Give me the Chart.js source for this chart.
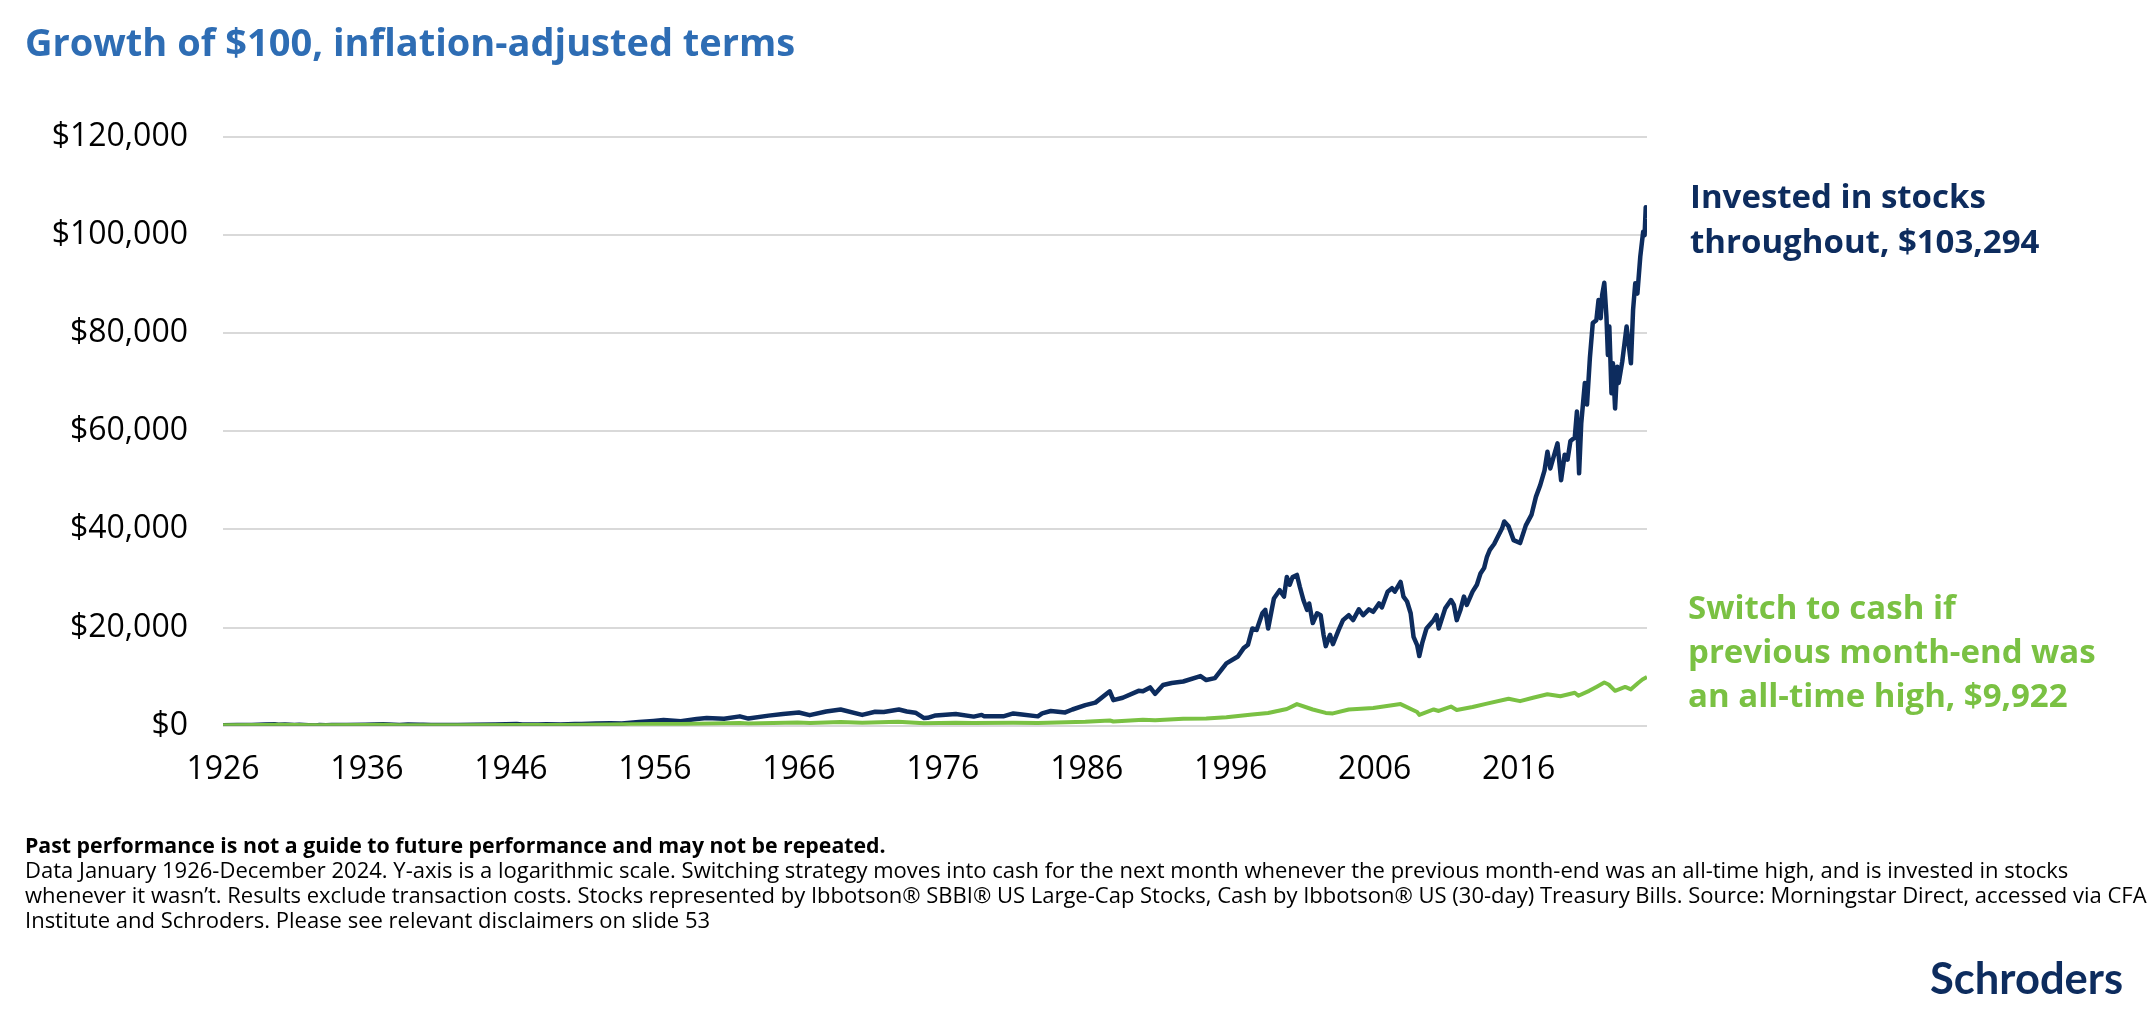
<!DOCTYPE html>
<html>
<head>
<meta charset="utf-8">
<script src="https://cdn.jsdelivr.net/npm/chart.js@4.4.1/dist/chart.umd.min.js"></script>
<style>
  html, body { margin: 0; padding: 0; background: #ffffff; }
  body { width: 2154px; height: 1015px; position: relative; overflow: hidden; font-family: "Open Sans", "Noto Sans", sans-serif; }
  #chart { position: absolute; left: 0; top: 0; }
  .title { position: absolute; left: 25px; top: 19px; font-size: 38px; line-height: 44px; font-weight: 700; color: #2E6DB4; white-space: nowrap; }
  .lab { position: absolute; font-size: 33px; font-weight: 700; white-space: nowrap; }
  .stocklab { left: 1690px; top: 173px; line-height: 45px; color: #0D2C5E; }
  .cashlab { left: 1688px; top: 585px; line-height: 44px; color: #7AC143; }
  .foot { position: absolute; left: 25px; top: 832px; font-size: 22px; line-height: 25px; color: #000; white-space: nowrap; }
  .foot b { font-weight: 700; font-size: 21.3px; }
  .logo { position: absolute; left: 1930px; top: 951px; font-family: "Lato", sans-serif; font-weight: 700; font-size: 43.5px; line-height: 52px; color: #0D2C5E; white-space: nowrap; }
</style>
</head>
<body>
<canvas id="chart" width="2154" height="1015"></canvas>
<div class="title">Growth of $100, inflation-adjusted terms</div>
<div class="lab stocklab">Invested in stocks<br>throughout, $103,294</div>
<div class="lab cashlab">Switch to cash if<br>previous month-end was<br>an all-time high, $9,922</div>
<div class="foot"><b>Past performance is not a guide to future performance and may not be repeated.</b><br>Data January 1926-December 2024. Y-axis is a logarithmic scale. Switching strategy moves into cash for the next month whenever the previous month-end was an all-time high, and is invested in stocks<br>whenever it wasn’t. Results exclude transaction costs. Stocks represented by Ibbotson® SBBI® US Large-Cap Stocks, Cash by Ibbotson® US (30-day) Treasury Bills. Source: Morningstar Direct, accessed via CFA<br>Institute and Schroders. Please see relevant disclaimers on slide 53</div>
<div class="logo">Schroders</div>
<script>
// ---- Data ----
const xTickYears = [1926, 1936, 1946, 1956, 1966, 1976, 1986, 1996, 2006, 2016];
const yTickValues = [0, 20000, 40000, 60000, 80000, 100000, 120000];

const stockYears = [1926.0,1927.0,1928.0,1928.9,1929.6,1929.85,1930.3,1930.95,1931.3,1931.95,1932.45,1932.7,1933.15,1933.55,1934.6,1935.9,1937.1,1938.25,1938.85,1939.65,1939.9,1940.45,1941.9,1942.3,1943.5,1944.9,1946.4,1946.8,1947.9,1948.45,1949.45,1950.45,1950.9,1951.9,1952.9,1953.7,1954.9,1955.9,1956.6,1957.8,1958.9,1959.6,1960.8,1961.9,1962.5,1963.9,1964.9,1966.0,1966.75,1967.9,1968.9,1970.4,1971.3,1971.9,1972.95,1973.5,1974.1,1974.7,1974.95,1975.5,1976.9,1978.15,1978.7,1978.85,1980.2,1980.9,1981.5,1982.6,1982.9,1983.5,1984.5,1985.0,1985.9,1986.6,1987.6,1987.85,1988.5,1989.6,1989.9,1990.4,1990.75,1991.3,1991.9,1992.7,1993.9,1994.3,1994.9,1995.7,1996.5,1996.9,1997.2,1997.5,1997.8,1998.2,1998.4,1998.6,1999.0,1999.4,1999.7,1999.9,2000.1,2000.3,2000.6,2000.8,2001.05,2001.3,2001.45,2001.7,2002.0,2002.25,2002.45,2002.6,2002.9,2003.1,2003.5,2003.8,2004.2,2004.5,2004.9,2005.2,2005.6,2005.9,2006.3,2006.5,2006.9,2007.2,2007.4,2007.8,2008.0,2008.25,2008.5,2008.7,2008.95,2009.1,2009.3,2009.6,2010.1,2010.3,2010.45,2010.9,2011.3,2011.5,2011.7,2011.95,2012.2,2012.4,2012.8,2013.1,2013.35,2013.6,2013.8,2014.0,2014.3,2014.5,2014.85,2015.0,2015.3,2015.65,2016.1,2016.5,2016.9,2017.2,2017.5,2017.8,2018.0,2018.2,2018.7,2018.95,2019.2,2019.4,2019.6,2019.9,2020.05,2020.2,2020.35,2020.6,2020.75,2020.95,2021.15,2021.4,2021.55,2021.7,2021.8,2021.95,2022.1,2022.2,2022.3,2022.45,2022.55,2022.7,2022.85,2022.95,2023.2,2023.5,2023.8,2023.95,2024.1,2024.25,2024.45,2024.65,2024.75,2024.83,2024.917];
const stockValues = [100,125,165,240,300,200,240,160,170,95,65,125,85,150,130,210,300,150,220,190,210,160,150,135,210,250,370,260,260,290,250,330,370,440,520,470,760,980,1150,930,1380,1550,1400,1900,1450,2050,2400,2700,2150,2900,3300,2200,2850,2800,3300,2900,2650,1550,1600,2100,2400,1850,2200,1950,1900,2500,2300,1900,2500,3000,2700,3300,4200,4700,7000,5200,5700,7100,7000,7800,6500,8300,8700,9000,10100,9300,9700,12700,14100,15800,16500,19800,19500,22900,23600,19800,25900,27600,26300,30300,28700,30300,30700,28300,25600,23600,24900,20900,22900,22500,18500,16200,18500,16600,19500,21500,22500,21500,23700,22500,23700,23200,24900,24100,27300,28000,27300,29300,26300,25300,22900,18100,16400,14200,16800,19800,21500,22500,19800,23900,25600,24600,21500,23500,26300,24600,27300,28700,31000,32100,34400,35800,37000,38200,40200,41600,40600,37800,37200,40800,43000,46600,49000,52000,55800,52400,57500,50000,55200,54200,58000,58700,64000,51400,61600,69800,65400,74900,82000,82600,86700,83000,87700,90200,83300,75500,81300,67700,73800,64600,73100,69800,74200,81300,73800,84700,90100,88000,95500,100600,99900,105600,103294];

const cashYears = [1926.0,1929.0,1929.7,1932.4,1936.0,1937.1,1938.2,1942.3,1946.4,1949.5,1952.9,1955.9,1957.8,1959.9,1961.9,1962.5,1965.9,1966.8,1968.9,1970.4,1972.9,1974.7,1976.9,1978.1,1980.9,1982.6,1985.9,1987.6,1987.85,1989.9,1990.75,1992.7,1994.3,1995.7,1997.5,1998.6,1999.9,2000.6,2001.7,2002.6,2003.1,2004.2,2005.9,2007.8,2008.95,2009.1,2010.1,2010.45,2011.3,2011.7,2012.8,2013.8,2015.3,2016.1,2017.0,2018.0,2018.9,2019.9,2020.15,2020.9,2021.4,2021.95,2022.25,2022.7,2023.4,2023.8,2024.3,2024.6,2024.917];
const cashValues = [100,140,170,75,150,170,110,110,160,140,220,350,330,450,560,450,650,560,750,600,800,480,620,560,620,560,800,1050,850,1200,1100,1400,1450,1700,2300,2600,3400,4400,3300,2600,2500,3300,3600,4400,2800,2200,3300,3000,3900,3200,3800,4500,5500,5000,5700,6400,6000,6700,6100,7100,7900,8800,8400,7100,7900,7400,8700,9400,9922];

const seriesNames = ["Switch to cash if previous month-end was an all-time high", "Invested in stocks throughout"];

// ---- Build chart ----
const toPoints = (xs, ys) => xs.map((x, i) => ({ x: x, y: ys[i] }));
const PLOT_LEFT = 223, PLOT_RIGHT = 1647, PLOT_TOP = 136.5, PLOT_BOTTOM = 725.7;
const W = 2154, H = 1015, XAXIS_H = 80;
const tickFont = { family: '"Open Sans", "Noto Sans", sans-serif', size: 32 };

new Chart(document.getElementById('chart'), {
  type: 'line',
  data: {
    datasets: [
      { label: seriesNames[0], data: toPoints(cashYears, cashValues), borderColor: '#7AC143', borderWidth: 4, pointRadius: 0, tension: 0, borderJoinStyle: 'round', fill: false },
      { label: seriesNames[1], data: toPoints(stockYears, stockValues), borderColor: '#0D2C5E', borderWidth: 4.5, pointRadius: 0, tension: 0, borderJoinStyle: 'round', fill: false }
    ]
  },
  options: {
    responsive: false,
    devicePixelRatio: 1,
    animation: false,
    layout: { padding: { left: 0, top: PLOT_TOP, right: W - PLOT_RIGHT, bottom: H - PLOT_BOTTOM - XAXIS_H } },
    plugins: { legend: { display: false }, tooltip: { enabled: false }, title: { display: false } },
    scales: {
      x: {
        type: 'linear',
        min: 1926,
        max: 2024.917,
        afterBuildTicks: (scale) => { scale.ticks = xTickYears.map(v => ({ value: v })); },
        afterFit: (scale) => { scale.height = XAXIS_H; },
        ticks: { autoSkip: false, maxRotation: 0, minRotation: 0, padding: 25, color: '#000000', font: tickFont, callback: (v) => String(v) },
        grid: { display: false, drawTicks: false },
        border: { display: false }
      },
      y: {
        type: 'linear',
        min: 0,
        max: 120000,
        afterBuildTicks: (scale) => { scale.ticks = yTickValues.map(v => ({ value: v })); },
        afterFit: (scale) => { scale.width = PLOT_LEFT; },
        ticks: { padding: 35, color: '#000000', font: tickFont, callback: (v) => '$' + Number(v).toLocaleString('en-US') },
        grid: { color: '#D9D9D9', lineWidth: 2, drawTicks: false },
        border: { display: false }
      }
    }
  }
});
</script>
</body>
</html>
